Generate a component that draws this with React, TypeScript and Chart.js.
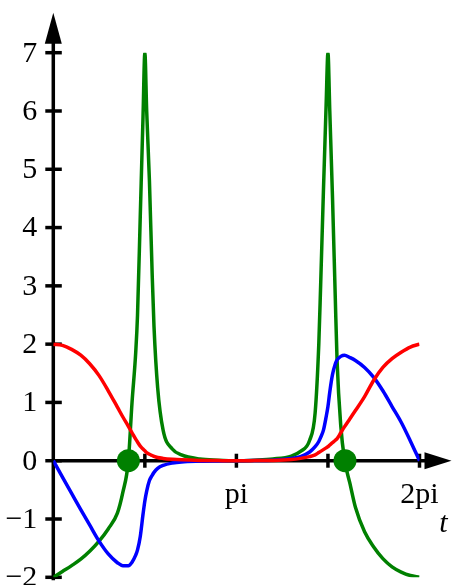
import React, { useEffect, useRef } from "react";
import { Chart, registerables } from "chart.js";

Chart.register(...registerables);

// t measured in units of pi (0 .. 2 means 0 .. 2pi)
const tValues = [
  0, 0.05, 0.1, 0.15, 0.2, 0.25, 0.3, 0.35, 0.38, 0.41,
  0.43, 0.45, 0.46, 0.475, 0.49, 0.5, 0.51, 0.525, 0.54, 0.55,
  0.57, 0.6, 0.65, 0.7, 0.8, 0.9,
  1.0,
  1.1, 1.2, 1.3, 1.35, 1.4, 1.43, 1.45, 1.46, 1.475, 1.49,
  1.5, 1.51, 1.525, 1.54, 1.55, 1.57, 1.59, 1.62, 1.65, 1.7,
  1.75, 1.8, 1.85, 1.9, 1.95, 2.0,
];

const redValues = [
  2.0, 1.98, 1.91, 1.81, 1.66, 1.46, 1.2, 0.92, 0.75, 0.59,
  0.48, 0.37, 0.32, 0.25, 0.2, 0.17, 0.14, 0.11, 0.09, 0.075,
  0.055, 0.04, 0.025, 0.015, 0.005, 0.002,
  0,
  0.002, 0.005, 0.02, 0.04, 0.07, 0.1, 0.14, 0.16, 0.19, 0.22,
  0.24, 0.27, 0.31, 0.35, 0.38, 0.48, 0.58, 0.72, 0.86, 1.1,
  1.38, 1.6, 1.75, 1.86, 1.95, 2.0,
];

const blueValues = [
  0, -0.28, -0.56, -0.84, -1.11, -1.38, -1.6, -1.75, -1.8, -1.8,
  -1.74, -1.62, -1.53, -1.3, -0.92, -0.69, -0.52, -0.34, -0.25, -0.2,
  -0.13, -0.08, -0.04, -0.02, -0.008, -0.003,
  0,
  0.003, 0.01, 0.04, 0.07, 0.15, 0.24, 0.33, 0.4, 0.52, 0.75,
  0.93, 1.18, 1.48, 1.66, 1.73, 1.79, 1.81, 1.77, 1.72, 1.6,
  1.43, 1.2, 0.93, 0.66, 0.34, 0,
];

const greenValues = [
  -2.0, -1.9, -1.8, -1.69, -1.55, -1.38, -1.17, -0.9, -0.54, 0.0,
  1.0, 1.85, 2.5, 4.2, 5.9, 7.0, 6.0, 4.8, 3.2, 2.3,
  1.25, 0.52, 0.2, 0.1, 0.03, 0.01,
  0,
  0.01, 0.03, 0.08, 0.16, 0.35, 0.82, 2.0, 3.0, 4.6, 6.1,
  7.0, 6.0, 4.5, 2.8, 1.7, 0.6, 0.03, -0.39, -0.8, -1.22,
  -1.48, -1.68, -1.82, -1.91, -1.97, -2.0,
];

const rootT = [0.41, 1.593];
const rootValues = [0, 0];

const xTickValues = [0.5, 1, 1.5, 2];
const xTickLabels = ["", "pi", "", "2pi"];
const yTickValues = [-2, -1, 0, 1, 2, 3, 4, 5, 6, 7];
const yTickLabels = ["\u22122", "\u22121", "0", "1", "2", "3", "4", "5", "6", "7"];
const xAxisTitle = "t";

const FONT = "\"Liberation Serif\", \"Times New Roman\", serif";

const axesPlugin = {
  id: "customAxes",
  beforeDatasetsDraw(chart: any) {
    const { ctx, scales } = chart;
    const xs = scales.x;
    const ys = scales.y;
    const x0 = xs.getPixelForValue(0);
    const y0 = ys.getPixelForValue(0);
    const yBottom = ys.getPixelForValue(-2);
    const yTop = ys.getPixelForValue(7);
    const xEnd = xs.getPixelForValue(2);
    ctx.save();
    ctx.strokeStyle = "#000";
    ctx.fillStyle = "#000";
    ctx.lineWidth = 3.5;
    ctx.lineCap = "butt";
    // y axis with arrow
    ctx.beginPath();
    ctx.moveTo(x0, yBottom + 3);
    ctx.lineTo(x0, yTop - 12);
    ctx.stroke();
    ctx.beginPath();
    ctx.moveTo(x0, yTop - 40);
    ctx.lineTo(x0 - 8.5, yTop - 9);
    ctx.lineTo(x0 + 8.5, yTop - 9);
    ctx.closePath();
    ctx.fill();
    // x axis with arrow
    ctx.beginPath();
    ctx.moveTo(x0, y0);
    ctx.lineTo(xEnd + 10, y0);
    ctx.stroke();
    ctx.beginPath();
    ctx.moveTo(xEnd + 32, y0);
    ctx.lineTo(xEnd + 5, y0 - 8.5);
    ctx.lineTo(xEnd + 5, y0 + 8.5);
    ctx.closePath();
    ctx.fill();
    // y ticks and labels
    ctx.font = `30px ${FONT}`;
    ctx.textAlign = "right";
    ctx.textBaseline = "middle";
    yTickValues.forEach((v, i) => {
      const py = ys.getPixelForValue(v);
      ctx.beginPath();
      ctx.moveTo(x0 - 8, py);
      ctx.lineTo(x0 + 8.5, py);
      ctx.stroke();
      ctx.fillText(yTickLabels[i], x0 - 16, py + 1);
    });
    // x ticks and labels
    ctx.textAlign = "center";
    ctx.textBaseline = "alphabetic";
    xTickValues.forEach((v, i) => {
      const px = xs.getPixelForValue(v);
      ctx.beginPath();
      ctx.moveTo(px, y0 - 7);
      ctx.lineTo(px, y0 + 7);
      ctx.stroke();
      if (xTickLabels[i]) ctx.fillText(xTickLabels[i], px, y0 + 42);
    });
    ctx.font = `italic 30px ${FONT}`;
    ctx.fillText(xAxisTitle, xEnd + 24, y0 + 71);
    ctx.restore();
  },
};

export default function App() {
  const ref = useRef<HTMLCanvasElement | null>(null);
  useEffect(() => {
    if (!ref.current) return;
    const mk = (vals: number[]) => tValues.map((t, i) => ({ x: t, y: vals[i] }));
    const line = (vals: number[], color: string) => ({
      data: mk(vals),
      borderColor: color,
      borderWidth: 3.5,
      pointRadius: 0,
      cubicInterpolationMode: "monotone",
      fill: false,
    });
    const chart = new Chart(ref.current, {
      type: "line",
      data: {
        datasets: [
          line(redValues, "#ff0000"),
          line(blueValues, "#0000ff"),
          line(greenValues, "#008000"),
          {
            data: rootT.map((t, i) => ({ x: t, y: rootValues[i] })),
            showLine: false,
            pointRadius: 11.5,
            pointBackgroundColor: "#008000",
            pointBorderColor: "#008000",
            pointBorderWidth: 0,
          },
        ],
      },
      options: {
        animation: false,
        responsive: false,
        maintainAspectRatio: false,
        devicePixelRatio: 1,
        layout: {
          autoPadding: false,
          padding: { left: 53.3, right: 34.5, top: 52.7, bottom: 7.7 },
        },
        plugins: { legend: { display: false }, tooltip: { enabled: false } },
        scales: {
          x: { type: "linear", min: 0, max: 2, display: false },
          y: { type: "linear", min: -2, max: 7, display: false },
        },
      },
      plugins: [axesPlugin],
    } as any);
    return () => chart.destroy();
  }, []);
  return (
    <div style={{ position: "absolute", left: 0, top: 0, width: 454, height: 585, background: "#fff" }}>
      <canvas ref={ref} width={454} height={585} style={{ display: "block" }} />
    </div>
  );
}
